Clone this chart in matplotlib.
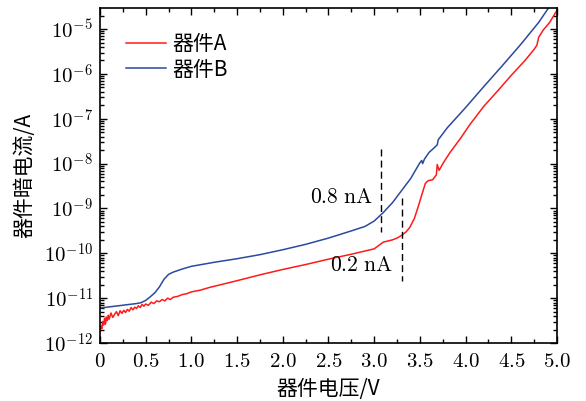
import matplotlib
matplotlib.use("Agg")
import matplotlib.pyplot as plt
import matplotlib.ticker as mticker
import numpy as np

# device A (red): voltage (V) and log10 of dark current (A)
v_a = [0, 0.01, 0.02, 0.03, 0.04, 0.05, 0.06, 0.07, 0.08, 0.09, 0.10, 0.12, 0.14,
       0.16, 0.18, 0.20, 0.22, 0.24, 0.26, 0.28, 0.30, 0.32, 0.34, 0.36, 0.38,
       0.40, 0.42, 0.44, 0.46, 0.48, 0.50, 0.53, 0.56, 0.59, 0.62, 0.65, 0.68,
       0.71, 0.74, 0.77, 0.80, 0.85, 0.90, 0.95, 1.0, 1.1, 1.2, 1.3, 1.4, 1.5,
       1.75, 2.0, 2.25, 2.5, 2.75, 3.0, 3.1, 3.2, 3.25, 3.3, 3.35, 3.39, 3.44,
       3.48, 3.52, 3.56, 3.59, 3.64, 3.68, 3.69, 3.71, 3.76, 3.83, 3.95, 4.05,
       4.2, 4.35, 4.5, 4.65, 4.75, 4.78, 4.80, 4.85, 4.92, 5.0]
log_i_a = [-11.75, -11.62, -11.68, -11.52, -11.60, -11.45, -11.58, -11.42, -11.50,
           -11.38, -11.47, -11.33, -11.43, -11.36, -11.30, -11.39, -11.28, -11.34,
           -11.27, -11.32, -11.25, -11.29, -11.21, -11.26, -11.20, -11.23, -11.17,
           -11.21, -11.14, -11.18, -11.13, -11.16, -11.09, -11.12, -11.06, -11.08,
           -11.03, -11.06, -11.00, -11.03, -10.98, -10.96, -10.92, -10.90, -10.86,
           -10.82, -10.76, -10.71, -10.66, -10.61, -10.48, -10.36, -10.25, -10.13,
           -10.02, -9.90, -9.75, -9.70, -9.66, -9.60, -9.52, -9.42, -9.22, -8.97,
           -8.70, -8.44, -8.38, -8.36, -8.25, -8.02, -8.15, -7.97, -7.75, -7.42,
           -7.12, -6.72, -6.38, -6.03, -5.70, -5.45, -5.36, -5.18, -5.02, -4.85,
           -4.58]

# device B (blue)
v_b = [0, 0.2, 0.4, 0.45, 0.5, 0.55, 0.6, 0.65, 0.7, 0.75, 0.8, 0.9, 1.0, 1.25,
       1.5, 1.75, 2.0, 2.25, 2.5, 2.75, 2.9, 3.0, 3.1, 3.2, 3.3, 3.4, 3.5, 3.52,
       3.53, 3.55, 3.6, 3.65, 3.69, 3.70, 3.8, 4.0, 4.2, 4.4, 4.6, 4.8, 4.9, 5.0]
log_i_b = [-11.22, -11.17, -11.12, -11.10, -11.05, -10.97, -10.88, -10.75, -10.58,
           -10.47, -10.42, -10.35, -10.29, -10.20, -10.12, -10.03, -9.92, -9.80,
           -9.66, -9.50, -9.40, -9.28, -9.09, -8.87, -8.60, -8.33, -7.98, -7.93,
           -8.00, -7.90, -7.75, -7.66, -7.58, -7.47, -7.20, -6.75, -6.28, -5.82,
           -5.35, -4.85, -4.55, -4.30]

x_ticks = [0, 0.5, 1.0, 1.5, 2.0, 2.5, 3.0, 3.5, 4.0, 4.5, 5.0]
x_tick_labels = ["0", "0.5", "1.0", "1.5", "2.0", "2.5", "3.0", "3.5", "4.0", "4.5", "5.0"]
y_ticks = [1e-12, 1e-11, 1e-10, 1e-9, 1e-8, 1e-7, 1e-6, 1e-5]

plt.rcParams['mathtext.fontset'] = 'cm'
plt.rcParams['font.family'] = ['Noto Sans CJK SC', 'DejaVu Sans']

fig = plt.figure(figsize=(5.86, 4.01), dpi=100)
ax = fig.add_axes([0.1706, 0.1446, 0.7799, 0.8354])

ax.plot(v_a, 10 ** np.array(log_i_a), color='#ff1a1a', lw=1.1, label='器件A')
ax.plot(v_b, 10 ** np.array(log_i_b), color='#2b4aa0', lw=1.1, label='器件B')

ax.set_yscale('log')
ax.set_xlim(0, 5)
ax.set_ylim(1e-12, 10 ** -4.53)

ax.set_xticks(x_ticks)
ax.set_xticklabels(['$%s$' % s for s in x_tick_labels], fontsize=15)
ax.xaxis.set_minor_locator(mticker.MultipleLocator(0.25))
ax.set_yticks(y_ticks)
ax.set_yticklabels([r'$10^{%d}$' % int(np.log10(t)) for t in y_ticks], fontsize=15)
ax.yaxis.set_minor_locator(mticker.LogLocator(base=10, subs=np.arange(2, 10), numticks=20))
ax.yaxis.set_minor_formatter(mticker.NullFormatter())

ax.tick_params(which='both', direction='in', top=True, right=True, width=1.0)
ax.tick_params(which='major', length=5, pad=5)
ax.tick_params(which='minor', length=3)
for sp in ax.spines.values():
    sp.set_linewidth(1.2)

ax.set_xlabel('器件电压/V', fontsize=15, labelpad=4)
ax.set_ylabel('器件暗电流/A', fontsize=15, labelpad=6)

# dashed markers
ax.plot([3.07, 3.07], [10 ** -7.67, 10 ** -9.53], 'k--', lw=1.0, dashes=(5, 3))
ax.plot([3.30, 3.30], [10 ** -8.77, 10 ** -10.62], 'k--', lw=1.0, dashes=(5, 3))
ax.text(2.99, 10 ** -8.75, r'$0.8\ \mathrm{nA}$', fontsize=15.5, ha='right', va='center')
ax.text(3.21, 10 ** -10.27, r'$0.2\ \mathrm{nA}$', fontsize=15.5, ha='right', va='center')

ax.legend(loc='upper left', bbox_to_anchor=(0.017, 0.98), frameon=False, fontsize=15,
          handlelength=1.9, handletextpad=0.3, labelspacing=0.15)

fig.savefig('out.png', dpi=100)
